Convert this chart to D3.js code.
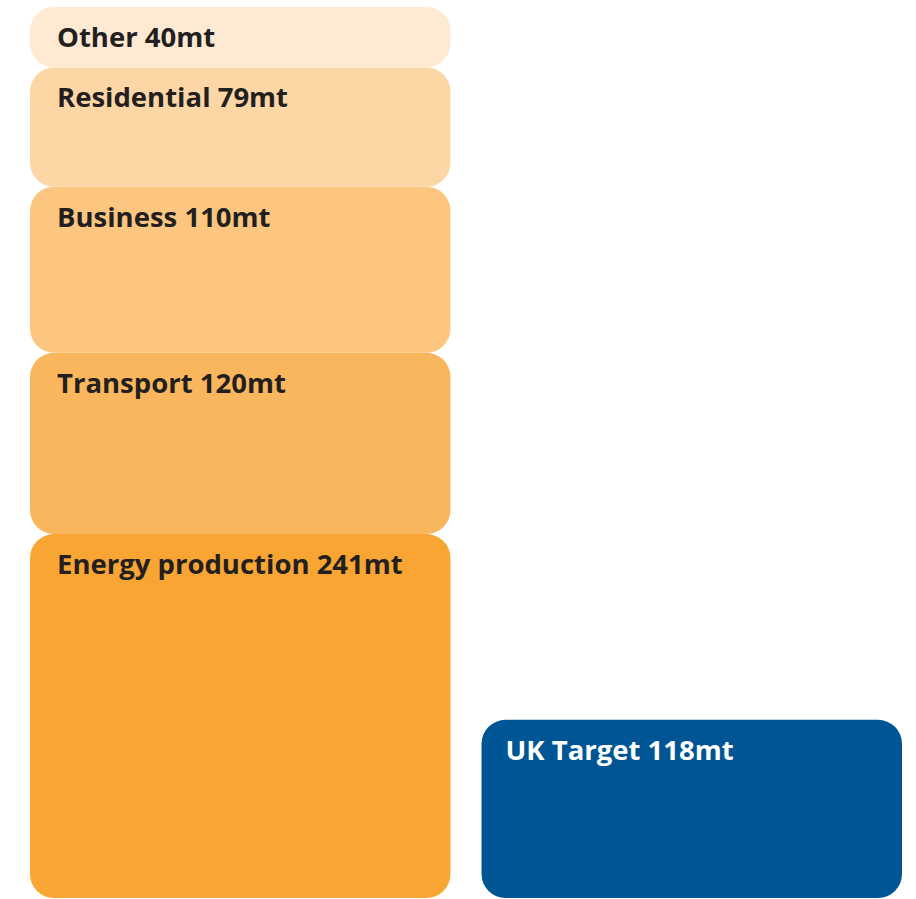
<!DOCTYPE html>
<html><head><meta charset="utf-8">
<script src="https://cdnjs.cloudflare.com/ajax/libs/d3/7.8.5/d3.min.js"></script>
<style>body{margin:0;background:#fff}svg{display:block}</style>
</head><body>
<svg id="c" width="916" height="899"></svg>
<script>
const sectors = ["Energy production", "Transport", "Business", "Residential", "Other"];
const sectorValues = [241, 120, 110, 79, 40];
const sectorColors = ["#f9a533", "#fab65d", "#fcc680", "#fdd6a6", "#fee9d3"];
const columns = ["UK emissions", "UK Target"];
const targetLabel = "UK Target";
const targetValue = 118;
const targetColor = "#005695";

const svg = d3.select("#c");
const total = d3.sum(sectorValues);
const y = d3.scaleLinear().domain([0, total]).range([898, 7]);
const x = d3.scaleBand().domain(columns).range([30, 902]).paddingInner(0.0688);

let cum = 0;
const stack = sectors.map((s, i) => {
  const d = {name: s, value: sectorValues[i], y0: cum, y1: cum + sectorValues[i], color: sectorColors[i], col: columns[0], text: "#231f20", dx: 27};
  cum += sectorValues[i];
  return d;
});
stack.push({name: targetLabel, value: targetValue, y0: 0, y1: targetValue, color: targetColor, col: columns[1], text: "#ffffff", dx: 24});

const g = svg.selectAll("g.seg").data(stack).join("g").attr("class", "seg");
g.append("rect")
  .attr("x", d => x(d.col))
  .attr("width", x.bandwidth())
  .attr("y", d => y(d.y1))
  .attr("height", d => y(d.y0) - y(d.y1))
  .attr("rx", 24).attr("ry", 24)
  .attr("fill", d => d.color);
g.append("text")
  .attr("x", d => x(d.col) + d.dx)
  .attr("y", d => y(d.y1) + 40)
  .attr("fill", d => d.text)
  .attr("font-family", "'Open Sans', sans-serif")
  .attr("font-weight", "bold")
  .attr("font-size", 27.5)
  .text(d => `${d.name} ${d.value}mt`);
</script>
</body></html>
